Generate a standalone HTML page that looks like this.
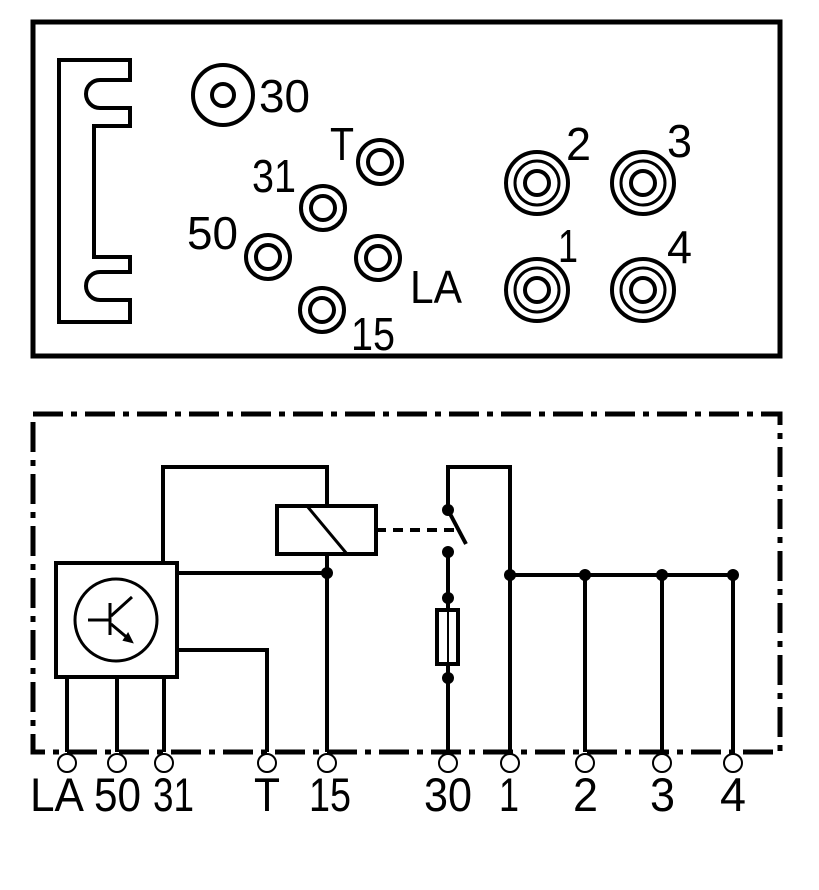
<!DOCTYPE html>
<html><head><meta charset="utf-8"><style>html,body{margin:0;padding:0;background:#fff}svg{display:block}</style></head>
<body>
<svg width="819" height="890" viewBox="0 0 819 890" xmlns="http://www.w3.org/2000/svg" font-family="Liberation Sans, sans-serif">
<rect width="819" height="890" fill="#fff"/>
<rect x="33" y="22" width="747" height="334" fill="none" stroke="#000" stroke-width="5"/>
<path d="M59 60 H130 V80 H100 A14 14 0 0 0 100 108 H130 V126 H94 V257 H130 V272 H100 A14 14 0 0 0 100 300 H130 V322 H59 Z" fill="none" stroke="#000" stroke-width="4"/>
<g fill="none" stroke="#000" stroke-width="4">
<circle cx="223" cy="95" r="30"/><circle cx="223" cy="95" r="11"/>
<circle cx="380" cy="162" r="22"/><circle cx="380" cy="162" r="12"/>
<circle cx="323" cy="208" r="22"/><circle cx="323" cy="208" r="12"/>
<circle cx="268" cy="257" r="22"/><circle cx="268" cy="257" r="12"/>
<circle cx="378" cy="258" r="22"/><circle cx="378" cy="258" r="12"/>
<circle cx="322" cy="310" r="22"/><circle cx="322" cy="310" r="12"/>
<circle cx="537" cy="183" r="31"/><circle cx="537" cy="183" r="22" stroke-width="3"/><circle cx="537" cy="183" r="12"/>
<circle cx="643" cy="183" r="31"/><circle cx="643" cy="183" r="22" stroke-width="3"/><circle cx="643" cy="183" r="12"/>
<circle cx="537" cy="290" r="31"/><circle cx="537" cy="290" r="22" stroke-width="3"/><circle cx="537" cy="290" r="12"/>
<circle cx="643" cy="290" r="31"/><circle cx="643" cy="290" r="22" stroke-width="3"/><circle cx="643" cy="290" r="12"/>
</g>
<g font-size="46" fill="#000">
<text x="259" y="112" textLength="51" lengthAdjust="spacingAndGlyphs">30</text>
<text x="330" y="160" textLength="24" lengthAdjust="spacingAndGlyphs">T</text>
<text x="252" y="192" textLength="44" lengthAdjust="spacingAndGlyphs">31</text>
<text x="187" y="249" textLength="51" lengthAdjust="spacingAndGlyphs">50</text>
<text x="410" y="303" textLength="52" lengthAdjust="spacingAndGlyphs">LA</text>
<text x="351" y="350" textLength="44" lengthAdjust="spacingAndGlyphs">15</text>
<text x="566" y="160" textLength="25" lengthAdjust="spacingAndGlyphs">2</text>
<text x="667" y="157" textLength="25" lengthAdjust="spacingAndGlyphs">3</text>
<text x="558" y="262" textLength="20" lengthAdjust="spacingAndGlyphs">1</text>
<text x="667" y="263" textLength="25" lengthAdjust="spacingAndGlyphs">4</text>
</g>
<rect x="33" y="414" width="747" height="338" fill="none" stroke="#000" stroke-width="5" stroke-dasharray="30 8 6 8"/>
<g fill="none" stroke="#000" stroke-width="4">
<path d="M163 563 V467 H327 V506"/>
<rect x="277" y="506" width="99" height="48"/>
<path d="M307 506 L347 554" stroke-width="3"/>
<path d="M376 530 H456" stroke-dasharray="10 7"/>
<path d="M327 554 V752"/>
<path d="M177 573 H327"/>
<rect x="56" y="563" width="121" height="114"/>
<circle cx="116" cy="620" r="41" stroke-width="3"/>
<path d="M88 620 H111 M110 603 V635 M111 616 L132 597 M111 624 L130 640" stroke-width="3"/>
<path d="M177 650 H267 V752"/>
<path d="M67 677 V752 M117 677 V752 M164 677 V752"/>
<path d="M448 510 V467 H510 V752"/>
<path d="M448 510 L466 544"/>
<path d="M448 552 V752"/>
<rect x="437" y="610" width="21" height="54" fill="#fff"/>
<path d="M448 612 V662" stroke-width="2"/>
<path d="M510 575 H733 M585 575 V752 M662 575 V752 M733 575 V752"/>
</g>
<path d="M124 640 L132 642 L128 634 Z" fill="#000" stroke="#000" stroke-width="2"/>
<g fill="#000">
<circle cx="327" cy="573" r="6"/>
<circle cx="448" cy="510" r="6"/><circle cx="448" cy="552" r="6"/>
<circle cx="448" cy="598" r="6"/><circle cx="448" cy="678" r="6"/>
<circle cx="510" cy="575" r="6"/><circle cx="585" cy="575" r="6"/>
<circle cx="662" cy="575" r="6"/><circle cx="733" cy="575" r="6"/>
</g>
<g fill="#fff" stroke="#000" stroke-width="2">
<circle cx="67" cy="763" r="9"/><circle cx="117" cy="763" r="9"/><circle cx="164" cy="763" r="9"/>
<circle cx="267" cy="763" r="9"/><circle cx="327" cy="763" r="9"/><circle cx="448" cy="763" r="9"/>
<circle cx="510" cy="763" r="9"/><circle cx="585" cy="763" r="9"/><circle cx="662" cy="763" r="9"/>
<circle cx="733" cy="763" r="9"/>
</g>
<g font-size="47" fill="#000">
<text x="30" y="811" textLength="54" lengthAdjust="spacingAndGlyphs">LA</text>
<text x="94" y="811" textLength="47" lengthAdjust="spacingAndGlyphs">50</text>
<text x="153" y="811" textLength="41" lengthAdjust="spacingAndGlyphs">31</text>
<text x="254" y="811" textLength="26" lengthAdjust="spacingAndGlyphs">T</text>
<text x="309" y="811" textLength="42" lengthAdjust="spacingAndGlyphs">15</text>
<text x="424" y="811" textLength="48" lengthAdjust="spacingAndGlyphs">30</text>
<text x="499" y="811" textLength="20" lengthAdjust="spacingAndGlyphs">1</text>
<text x="573" y="811" textLength="25" lengthAdjust="spacingAndGlyphs">2</text>
<text x="650" y="811" textLength="25" lengthAdjust="spacingAndGlyphs">3</text>
<text x="720" y="811" textLength="26" lengthAdjust="spacingAndGlyphs">4</text>
</g>
</svg>
</body></html>
